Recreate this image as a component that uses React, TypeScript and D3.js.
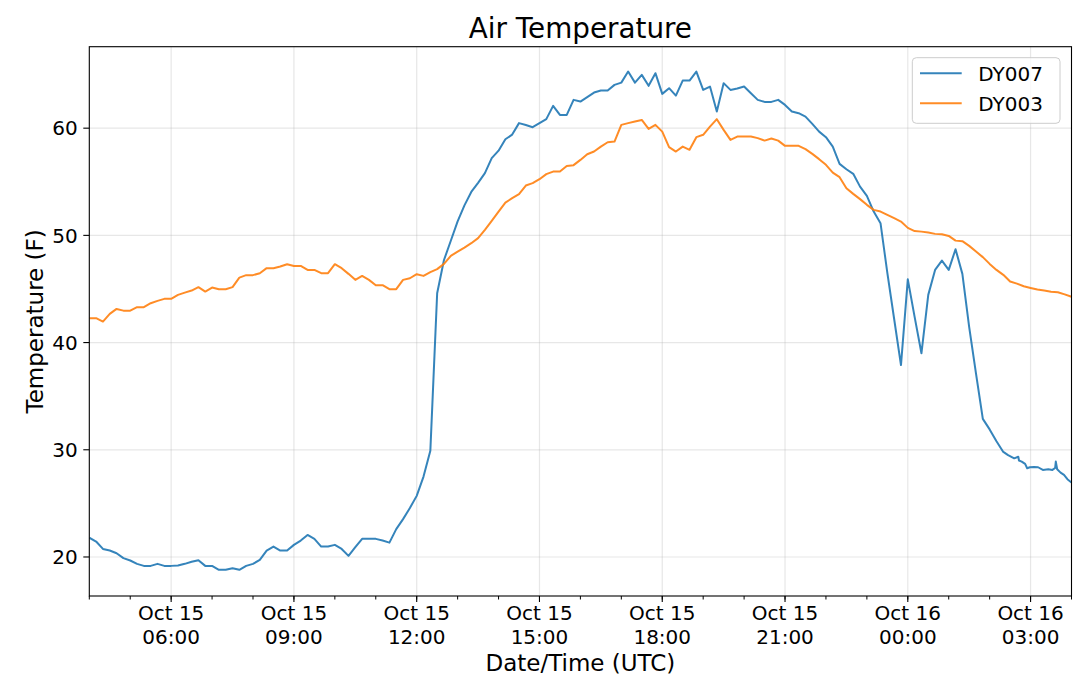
// Air temperature time series, two stations, drawn with D3 scales in JSX
import * as d3 from 'd3';

// first sample (UTC) and sampling step of the regular records
const startTime = new Date(Date.UTC(2017, 9, 15, 4, 0));
const endTime = new Date(Date.UTC(2017, 9, 16, 4, 0));
const stepMinutes = 10;

// DY007, 10-minute samples from 04:00
const dy007Values = [
  21.8, 21.44, 20.75, 20.6, 20.35, 19.89, 19.67, 19.36, 19.17, 19.17,
  19.36, 19.17, 19.17, 19.2, 19.36, 19.55, 19.7, 19.17, 19.17, 18.8,
  18.8, 18.95, 18.8, 19.17, 19.36, 19.73, 20.6, 20.97, 20.6, 20.6,
  21.13, 21.53, 22.06, 21.69, 20.97, 20.97, 21.13, 20.75, 20.1, 20.91,
  21.69, 21.69, 21.69, 21.53, 21.34, 22.6, 23.53, 24.56, 25.7, 27.5,
  29.9, 44.6, 47.7, 49.5, 51.3, 52.8, 54.05, 54.9, 55.8, 57.2,
  57.9, 58.97, 59.4, 60.47, 60.3, 60.09, 60.47, 60.84, 62.08, 61.24,
  61.24, 62.64, 62.48, 62.89, 63.32, 63.51, 63.51, 64.04, 64.25, 65.28,
  64.25, 64.97, 63.95, 65.13, 63.2, 63.73, 63.04, 64.44, 64.44, 65.28,
  63.57, 63.88, 61.55, 64.2, 63.57, 63.7, 63.88, 63.26, 62.64, 62.45,
  62.45, 62.64, 62.17, 61.55, 61.4, 61.08, 60.4, 59.68, 59.16, 58.28,
  56.67, 56.17, 55.74, 54.55, 53.68, 52.22, 51.14, 46.5, 42.2, 37.9,
  45.9, 42.4, 39.0, 44.45, 46.78, 47.65, 46.78, 48.71, 46.41, 41.45,
  37.1, 32.88, 31.9, 30.8, 29.8,
];
// DY007 after 02:20, irregular (minutes after 04:00)
const dy007TailMinutes = [1347, 1356, 1362, 1363, 1367, 1372, 1375, 1379, 1385, 1391, 1398, 1406, 1412, 1416, 1417, 1419, 1424, 1429, 1434, 1440];
const dy007TailValues = [29.5, 29.2, 29.35, 29.0, 28.9, 28.68, 28.28, 28.37, 28.4, 28.37, 28.12, 28.18, 28.12, 28.3, 28.9, 28.18, 27.87, 27.66, 27.26, 26.94];

// DY003, 10-minute samples from 04:00
const dy003Values = [
  42.28, 42.28, 41.96, 42.68, 43.14, 42.98, 42.98, 43.3, 43.3, 43.67,
  43.89, 44.08, 44.08, 44.45, 44.66, 44.85, 45.17, 44.76, 45.13, 44.98,
  44.98, 45.17, 46.06, 46.29, 46.29, 46.47, 46.94, 46.94, 47.09, 47.31,
  47.15, 47.15, 46.78, 46.78, 46.47, 46.47, 47.31, 46.94, 46.41, 45.85,
  46.22, 45.85, 45.35, 45.35, 44.98, 44.98, 45.85, 46.0, 46.38, 46.22,
  46.57, 46.85, 47.34, 48.09, 48.49, 48.86, 49.27, 49.74, 50.51, 51.35,
  52.22, 53.06, 53.47, 53.84, 54.65, 54.87, 55.24, 55.71, 55.95, 55.95,
  56.48, 56.55, 57.04, 57.57, 57.82, 58.28, 58.69, 58.75, 60.31, 60.47,
  60.62, 60.77, 59.93, 60.31, 59.68, 58.23, 57.82, 58.28, 57.98, 59.16,
  59.38, 60.15, 60.84, 59.84, 58.91, 59.22, 59.22, 59.22, 59.07, 58.84,
  59.03, 58.84, 58.35, 58.35, 58.35, 58.04, 57.6, 57.11, 56.58, 55.86,
  55.43, 54.4, 53.87, 53.38, 52.85, 52.38, 52.22, 51.91, 51.6, 51.29,
  50.7, 50.4, 50.35, 50.26, 50.14, 50.1, 49.95, 49.51, 49.46, 49.02,
  48.49, 47.97, 47.34, 46.78, 46.32, 45.7, 45.5, 45.25, 45.1, 44.95,
  44.85, 44.75, 44.7, 44.5, 44.28,
];

const yTicks = [20, 30, 40, 50, 60];
const yDomain = [16.36, 67.6];
const seriesNames = ['DY007', 'DY003'];
const seriesColors = ['#1f77b4', '#ff7f0e'];

const width = 1080;
const height = 678;
const margin = { top: 46.7, right: 8.5, bottom: 82, left: 89.3 };
const font = '"DejaVu Sans", sans-serif';

const atMinute = (m: number) => new Date(startTime.getTime() + m * 60000);

const dy007 = [
  ...dy007Values.map((v, i) => [atMinute(i * stepMinutes), v] as [Date, number]),
  ...dy007TailMinutes.map((m, i) => [atMinute(m), dy007TailValues[i]] as [Date, number]),
];
const dy003 = dy003Values.map((v, i) => [atMinute(i * stepMinutes), v] as [Date, number]);
const series = [dy007, dy003];

export default function App() {
  const x = d3.scaleUtc().domain([startTime, endTime]).range([margin.left, width - margin.right]);
  const y = d3.scaleLinear().domain(yDomain).range([height - margin.bottom, margin.top]);
  const line = d3.line<[Date, number]>().x(d => x(d[0])).y(d => y(d[1]));

  const majorTicks = x.ticks(d3.utcHour.every(3)!);
  const minorTicks = x.ticks(d3.utcHour.every(1)!);
  const fmtDay = d3.utcFormat('%b %d');
  const fmtTime = d3.utcFormat('%H:%M');

  const x0 = margin.left, x1 = width - margin.right;
  const y0 = height - margin.bottom, y1 = margin.top;

  return (
    <div style={{ position: 'fixed', left: 0, top: 0 }}>
      <svg width={width} height={height} style={{ display: 'block', background: '#fff' }} fontFamily={font}>
        {/* grid */}
        {majorTicks.map(t => (
          <line key={'gx' + t.getTime()} x1={x(t)} x2={x(t)} y1={y0} y2={y1} stroke="#b0b0b0" strokeOpacity={0.3} strokeWidth={1.2} />
        ))}
        {yTicks.map(v => (
          <line key={'gy' + v} x1={x0} x2={x1} y1={y(v)} y2={y(v)} stroke="#b0b0b0" strokeOpacity={0.3} strokeWidth={1.2} />
        ))}

        {/* series */}
        <g clipPath="url(#plot-clip)">
          {series.map((s, i) => (
            <path key={seriesNames[i]} d={line(s) || ''} fill="none" stroke={seriesColors[i]} strokeOpacity={0.9} strokeWidth={2} strokeLinejoin="round" />
          ))}
        </g>
        <defs>
          <clipPath id="plot-clip">
            <rect x={x0} y={y1} width={x1 - x0} height={y0 - y1} />
          </clipPath>
        </defs>

        {/* spines */}
        <rect x={x0} y={y1} width={x1 - x0} height={y0 - y1} fill="none" stroke="#000" strokeWidth={1.1} />

        {/* x axis */}
        {minorTicks.map(t => (
          <line key={'mx' + t.getTime()} x1={x(t)} x2={x(t)} y1={y0} y2={y0 + 3.5} stroke="#000" strokeWidth={1} />
        ))}
        {majorTicks.map(t => (
          <g key={'tx' + t.getTime()}>
            <line x1={x(t)} x2={x(t)} y1={y0} y2={y0 + 6} stroke="#000" strokeWidth={1.1} />
            <text x={x(t)} y={619.6} textAnchor="middle" fontSize={20} fill="#000">{fmtDay(t)}</text>
            <text x={x(t)} y={643.5} textAnchor="middle" fontSize={20} fill="#000">{fmtTime(t)}</text>
          </g>
        ))}

        {/* y axis */}
        {yTicks.map(v => (
          <g key={'ty' + v}>
            <line x1={x0 - 6} x2={x0} y1={y(v)} y2={y(v)} stroke="#000" strokeWidth={1.1} />
            <text x={x0 - 11.5} y={y(v) + 7.3} textAnchor="end" fontSize={20} fill="#000">{v}</text>
          </g>
        ))}

        {/* labels */}
        <text x={(x0 + x1) / 2} y={37.5} textAnchor="middle" fontSize={27.8} fill="#000">Air Temperature</text>
        <text x={(x0 + x1) / 2} y={671} textAnchor="middle" fontSize={23} fill="#000">Date/Time (UTC)</text>
        <text transform={`translate(43,${(y0 + y1) / 2}) rotate(-90)`} textAnchor="middle" fontSize={23} fill="#000">Temperature (F)</text>

        {/* legend */}
        <rect x={912.3} y={57.7} width={147.7} height={65.6} rx={4} fill="#fff" fillOpacity={0.8} stroke="#cccccc" strokeWidth={1} />
        {seriesNames.map((name, i) => (
          <g key={'lg' + name}>
            <line x1={920} x2={961.7} y1={73.3 + i * 30} y2={73.3 + i * 30} stroke={seriesColors[i]} strokeOpacity={0.9} strokeWidth={2} />
            <text x={978.3} y={80.6 + i * 30} fontSize={20} fill="#000">{name}</text>
          </g>
        ))}
      </svg>
    </div>
  );
}
